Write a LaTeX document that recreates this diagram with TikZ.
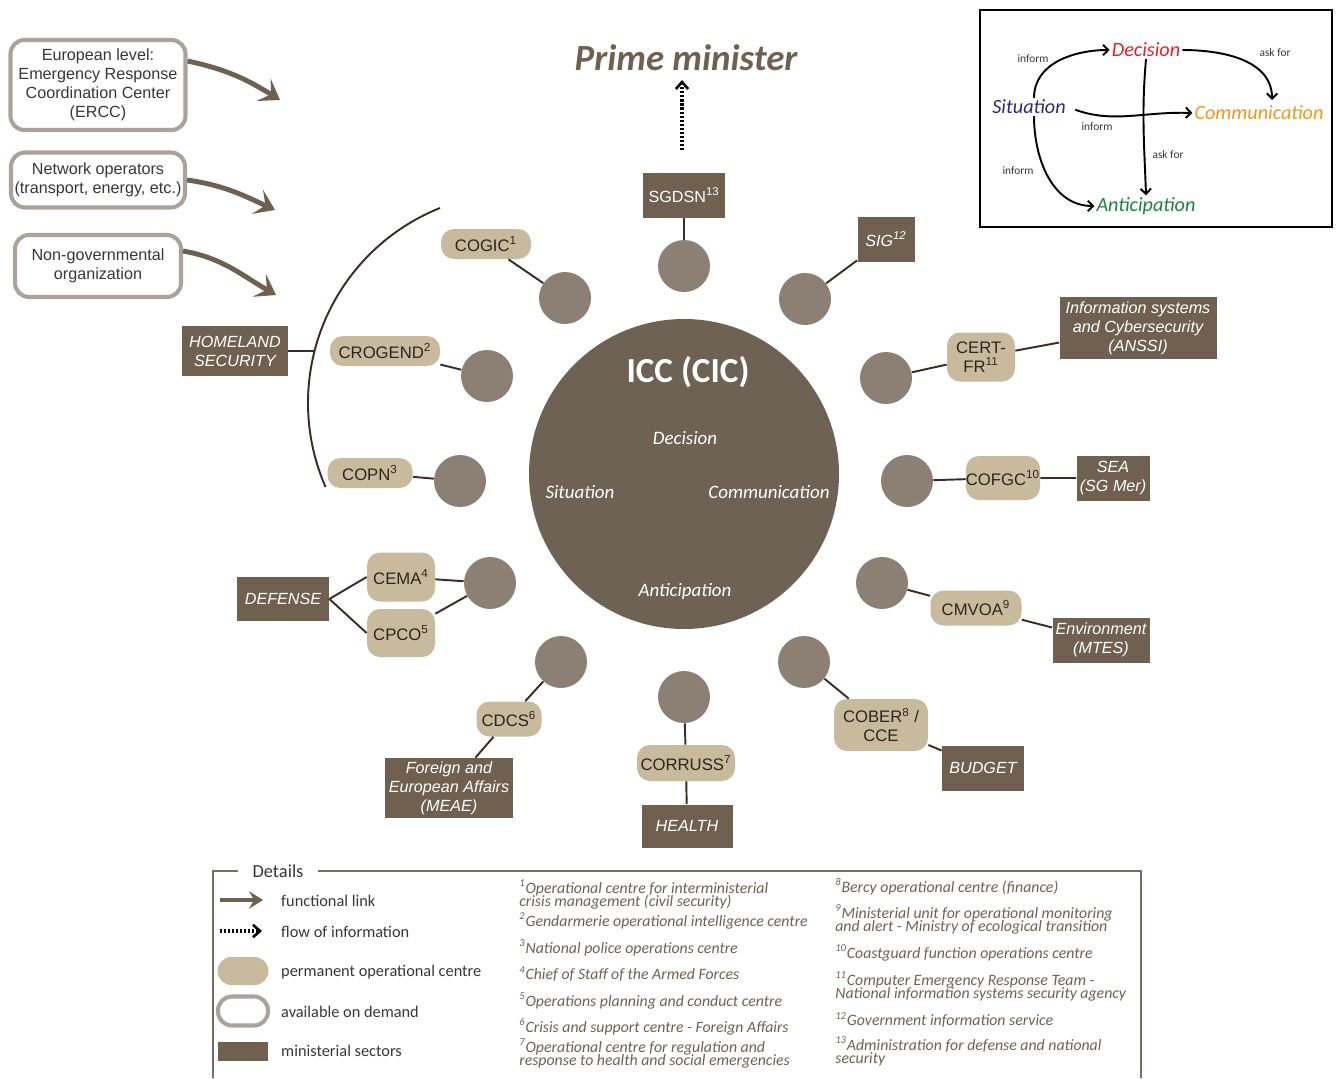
\documentclass[tikz,border=0pt]{standalone}
\usepackage{fontspec}
\setmainfont{Carlito}
\setsansfont{Liberation Sans}
\usepackage{tikz}
\usetikzlibrary{arrows.meta}

\definecolor{minbrown}{RGB}{112,96,80}
\definecolor{centrebeige}{RGB}{200,186,156}
\definecolor{centretext}{RGB}{45,37,32}
\definecolor{dotgrey}{RGB}{139,128,115}
\definecolor{iccbrown}{RGB}{110,98,84}
\definecolor{linkbrown}{RGB}{60,44,36}
\definecolor{demandgrey}{RGB}{170,162,155}
\definecolor{textgrey}{RGB}{55,55,55}
\definecolor{frameline}{RGB}{122,108,96}
\definecolor{situblue}{RGB}{46,40,130}
\definecolor{decired}{RGB}{232,30,40}
\definecolor{commorange}{RGB}{247,148,29}
\definecolor{antigreen}{RGB}{30,130,60}

\newdimen\pxu \pxu=0.02cm
\newcommand\notefont{\itshape\fontsize{9}{7.6}\selectfont\lineskiplimit=-8pt\relax}

\begin{document}
\begin{tikzpicture}[x=0.02cm, y=0.02cm,
		link/.style={draw=linkbrown, line width=1.1pt},
		ministry/.style={rectangle, fill=minbrown, text=white, inner sep=0pt, align=center, font=\sffamily\itshape\fontsize{9.2}{10.8}\selectfont},
		centre/.style={rectangle, rounded corners=13\pxu, fill=centrebeige, text=centretext, inner sep=0pt, align=center, font=\sffamily\fontsize{9.5}{10.8}\selectfont},
		dot/.style={circle, fill=dotgrey, minimum size=52\pxu, inner sep=0pt},
		demand/.style={rectangle, rounded corners=14\pxu, draw=demandgrey, line width=2.3pt, fill=white, text=textgrey, inner sep=0pt, align=center, font=\sffamily\fontsize{9.2}{10.8}\selectfont},
		funarrow/.style={minbrown, line width=2.8pt, -{Stealth[length=11pt, width=15pt, inset=5pt]}},
		infoarrow/.style={black, line width=2.3pt, dash pattern=on 1.2pt off 1.1pt, -{Straight Barb[length=4pt, width=7pt, line width=1.5pt]}},
		iccword/.style={text=white, font=\itshape\fontsize{10.8}{12}\selectfont},
		insetword/.style={inner sep=1pt, font=\itshape\fontsize{11.5}{13}\selectfont},
		insetarrow/.style={black, line width=1.1pt, -{Straight Barb[length=3pt, width=6pt]}},
		insetlabel/.style={text=textgrey, font=\fontsize{6.5}{8}\selectfont},
		legendtext/.style={anchor=west, text=textgrey, font=\fontsize{9.3}{11}\selectfont},
		note/.style={anchor=west, align=left, text=minbrown, inner sep=0pt, font=\notefont}]

	\useasboundingbox (0,0) rectangle (1338,-1078);

	% on demand partners
	\node[demand, minimum width=175\pxu, minimum height=90\pxu] (ercc) at (98,-85) {European level:\\Emergency Response\\Coordination Center\\(ERCC)};
	\node[demand, minimum width=174\pxu, minimum height=55\pxu] (netop) at (98,-180) {Network operators\\(transport, energy, etc.)};
	\node[demand, minimum width=166\pxu, minimum height=62\pxu] (ngo) at (98,-266) {Non-governmental\\organization};
	\coordinate (ercctip) at (280,-100);
	\coordinate (netoptip) at (275,-210);
	\coordinate (ngotip) at (276,-295);
	\draw[funarrow] (ercc.15) to[out=-12, in=148] (ercctip);
	\draw[funarrow] (netop.east) to[out=-8, in=155] (netoptip);
	\draw[funarrow] (ngo.10) to[out=-10, in=150] (ngotip);

	% prime minister
	\node[text=minbrown, font=\bfseries\itshape\fontsize{21}{24}\selectfont] (pm) at (686,-58) {Prime minister};
	\coordinate (pmfoot) at (682,-150);
	\coordinate (pmtip) at (682,-80);
	\draw[infoarrow] (pmfoot) -- (pmtip);

	% interministerial crisis centre
	\node[circle, fill=iccbrown, minimum size=310\pxu, inner sep=0pt] (icc) at (684,-474) {};
	\node[text=white, font=\bfseries\fontsize{20}{24}\selectfont] (icctitle) at (688,-372) {ICC (CIC)};
	\node[iccword] (iccdec) at (685,-438) {Decision};
	\node[iccword] (iccsit) at (580,-492) {Situation};
	\node[iccword] (icccom) at (769,-492) {Communication};
	\node[iccword] (iccant) at (685,-591) {Anticipation};

	% satellites
	\node[dot] (sgdsndot) at (684,-266) {};
	\node[dot] (cogicdot) at (565,-298) {};
	\node[dot] (crogenddot) at (487,-376) {};
	\node[dot] (copndot) at (460,-481) {};
	\node[dot] (defdot) at (490,-583) {};
	\node[dot] (cdcsdot) at (561,-662) {};
	\node[dot] (corrussdot) at (684,-697) {};
	\node[dot] (coberdot) at (804,-662) {};
	\node[dot] (cmvoadot) at (882,-583) {};
	\node[dot] (cofgcdot) at (907,-481) {};
	\node[dot] (certdot) at (886,-378) {};
	\node[dot] (sigdot) at (805,-299) {};

	% operational centres
	\node[centre, minimum width=90\pxu, minimum height=30\pxu] (cogic) at (486,-244) {COGIC\textsuperscript{1}};
	\node[centre, minimum width=110\pxu, minimum height=30\pxu] (crogend) at (385,-351) {CROGEND\textsuperscript{2}};
	\node[centre, minimum width=85\pxu, minimum height=30\pxu] (copn) at (370,-473) {COPN\textsuperscript{3}};
	\node[centre, minimum width=68\pxu, minimum height=49\pxu] (cema) at (401,-577) {CEMA\textsuperscript{4}};
	\node[centre, minimum width=68\pxu, minimum height=48\pxu] (cpco) at (401,-633) {CPCO\textsuperscript{5}};
	\node[centre, minimum width=65\pxu, minimum height=35\pxu] (cdcs) at (509,-719) {CDCS\textsuperscript{6}};
	\node[centre, minimum width=98\pxu, minimum height=36\pxu] (corruss) at (686,-763) {CORRUSS\textsuperscript{7}};
	\node[centre, minimum width=94\pxu, minimum height=52\pxu] (cober) at (881,-725) {COBER\textsuperscript{8} /\\CCE};
	\node[centre, minimum width=91\pxu, minimum height=35\pxu] (cmvoa) at (976,-608) {CMVOA\textsuperscript{9}};
	\node[centre, minimum width=74\pxu, minimum height=44\pxu] (cofgc) at (1003,-478) {COFGC\textsuperscript{10}};
	\node[centre, minimum width=68\pxu, minimum height=49\pxu] (cert) at (981,-357) {CERT-\\FR\textsuperscript{11}};

	% ministerial sectors
	\node[ministry, minimum width=82\pxu, minimum height=45\pxu, font=\sffamily\fontsize{9.2}{10.8}\selectfont] (sgdsn) at (684,-195) {SGDSN\textsuperscript{13}};
	\node[ministry, minimum width=57\pxu, minimum height=45\pxu] (sig) at (886,-239) {SIG\textsuperscript{12}};
	\node[ministry, minimum width=157\pxu, minimum height=62\pxu] (anssi) at (1138,-328) {Information systems\\and Cybersecurity\\(ANSSI)};
	\node[ministry, minimum width=73\pxu, minimum height=45\pxu] (sea) at (1113,-478) {SEA\\(SG Mer)};
	\node[ministry, minimum width=97\pxu, minimum height=45\pxu] (mtes) at (1101,-640) {Environment\\(MTES)};
	\node[ministry, minimum width=82\pxu, minimum height=45\pxu] (budget) at (983,-768) {BUDGET};
	\node[ministry, minimum width=91\pxu, minimum height=43\pxu] (health) at (687,-826) {HEALTH};
	\node[ministry, minimum width=128\pxu, minimum height=60\pxu] (meae) at (449,-788) {Foreign and\\European Affairs\\(MEAE)};
	\node[ministry, minimum width=92\pxu, minimum height=44\pxu] (defense) at (283,-599) {DEFENSE};
	\node[ministry, minimum width=106\pxu, minimum height=50\pxu] (homeland) at (235,-351) {HOMELAND\\SECURITY};

	% homeland security bracket
	\draw[link] (440,-208) arc[start angle=111.8, end angle=203.6, radius=210\pxu];
	\coordinate (homearc) at (314.5,-351);
	\draw[link] (homeland) -- (homearc);

	\draw[link] (sgdsn) -- (sgdsndot);
	\draw[link] (sig) -- (sigdot);
	\draw[link] (cogic) -- (cogicdot);
	\draw[link] (crogend) -- (crogenddot);
	\draw[link] (copn) -- (copndot);
	\draw[link] (defense.east) -- (cema.west);
	\draw[link] (defense.east) -- (cpco.west);
	\draw[link] (cema) -- (defdot);
	\draw[link] (cpco) -- (defdot);
	\draw[link] (meae) -- (cdcs) -- (cdcsdot);
	\draw[link] (health) -- (corruss) -- (corrussdot);
	\draw[link] (budget) -- (cober) -- (coberdot);
	\draw[link] (mtes) -- (cmvoa) -- (cmvoadot);
	\draw[link] (sea) -- (cofgc) -- (cofgcdot);
	\draw[link] (anssi) -- (cert) -- (certdot);

	% inset
	\node[draw=black, line width=1.2pt, minimum width=352\pxu, minimum height=217\pxu, inner sep=0pt] (inset) at (1156,-118.5) {};
	\node[insetword, text=decired] (dec) at (1146,-50) {Decision};
	\node[insetword, text=situblue] (sit) at (1029,-107) {Situation};
	\node[insetword, text=commorange] (com) at (1259,-113) {Communication};
	\node[insetword, text=antigreen] (ant) at (1146,-206) {Anticipation};
	\coordinate (comtop) at (1272,-100);
	\draw[insetarrow] ([xshift=5\pxu]sit.north) to[out=90, in=180] (dec.west);
	\draw[insetarrow] (dec.east) to[out=0, in=90] (comtop);
	\draw[insetarrow, shorten <=8\pxu] (sit.east) to[out=-20, in=178] (com.west);
	\draw[insetarrow] (dec.south) to[out=-95, in=92] (ant.north);
	\draw[insetarrow] ([xshift=5\pxu]sit.south) to[out=-90, in=180] (ant.west);
	\node[insetlabel] (lab1) at (1033,-59) {inform};
	\node[insetlabel] (lab2) at (1275,-53) {ask for};
	\node[insetlabel] (lab3) at (1097,-127) {inform};
	\node[insetlabel] (lab4) at (1168,-155) {ask for};
	\node[insetlabel] (lab5) at (1018,-171) {inform};

	% details
	\draw[frameline, line width=0.9pt] (213,-1078) -- (213,-871) -- (1141,-871) -- (1141,-1078);
	\node[fill=white, inner xsep=15\pxu, text=textgrey, font=\fontsize{10.5}{12}\selectfont] (details) at (278,-871) {Details};
	\coordinate (fla) at (220,-900);
	\coordinate (flb) at (263,-900);
	\draw[funarrow, line width=2.2pt, -{Stealth[length=8pt, width=10pt, inset=3pt]}] (fla) -- (flb);
	\coordinate (ifa) at (220,-931);
	\coordinate (ifb) at (262,-931);
	\draw[infoarrow, line width=2pt] (ifa) -- (ifb);
	\node[centre, minimum width=51\pxu, minimum height=28\pxu, rounded corners=14\pxu] (keycentre) at (243,-971) {};
	\node[demand, minimum width=50\pxu, minimum height=29\pxu, rounded corners=14\pxu] (keydemand) at (243,-1011) {};
	\node[ministry, minimum width=50\pxu, minimum height=19\pxu] (keyministry) at (243,-1051) {};
	\node[legendtext] (tfl) at (275,-901) {functional link};
	\node[legendtext] (tif) at (275,-932) {flow of information};
	\node[legendtext] (tce) at (275,-972) {permanent operational centre};
	\node[legendtext] (tde) at (275,-1012) {available on demand};
	\node[legendtext] (tmi) at (275,-1051) {ministerial sectors};

	\node[note] (n1) at (519,-894.5) {\textsuperscript{1}Operational centre for interministerial\\crisis management (civil security)};
	\node[note] (n2) at (519,-921) {\textsuperscript{2}Gendarmerie operational intelligence centre};
	\node[note] (n3) at (519,-948) {\textsuperscript{3}National police operations centre};
	\node[note] (n4) at (519,-974) {\textsuperscript{4}Chief of Staff of the Armed Forces};
	\node[note] (n5) at (519,-1001) {\textsuperscript{5}Operations planning and conduct centre};
	\node[note] (n6) at (519,-1027) {\textsuperscript{6}Crisis and support centre - Foreign Affairs};
	\node[note] (n7) at (519,-1053.5) {\textsuperscript{7}Operational centre for regulation and\\response to health and social emergencies};
	\node[note] (n8) at (835,-887) {\textsuperscript{8}Bercy operational centre (finance)};
	\node[note] (n9) at (835,-919.5) {\textsuperscript{9}Ministerial unit for operational monitoring\\and alert - Ministry of ecological transition};
	\node[note] (n10) at (835,-953) {\textsuperscript{10}Coastguard function operations centre};
	\node[note] (n11) at (835,-986.5) {\textsuperscript{11}Computer Emergency Response Team -\\National information systems security agency};
	\node[note] (n12) at (835,-1020) {\textsuperscript{12}Government information service};
	\node[note] (n13) at (835,-1051.5) {\textsuperscript{13}Administration for defense and national\\security};

\end{tikzpicture}
\end{document}
